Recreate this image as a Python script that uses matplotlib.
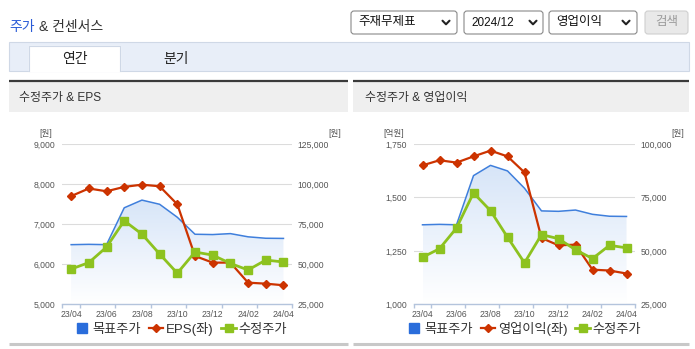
import numpy as np
import matplotlib
matplotlib.use("Agg")
import matplotlib.pyplot as plt
import matplotlib.patches as mpatches
from matplotlib.lines import Line2D
from matplotlib.colors import LinearSegmentedColormap

plt.rcParams['font.family'] = ['Liberation Sans', 'Noto Sans CJK KR']

# ---- data ----
months = ['23/04', '23/05', '23/06', '23/07', '23/08', '23/09', '23/10',
          '23/11', '23/12', '24/01', '24/02', '24/03', '24/04']
target_price = [62200, 62400, 62200, 85200, 90000, 87400, 79300,
                68700, 68500, 69100, 67100, 66200, 66100]
adj_price = [47000, 51000, 60700, 77100, 68800, 56400, 44400,
             57600, 55700, 50500, 46400, 52600, 51400]
eps = [7700, 7890, 7820, 7930, 7985, 7945, 7495,
       6205, 6040, 6040, 5540, 5515, 5475]
op_income = [1650, 1674, 1663, 1692, 1719, 1692, 1617,
             1310, 1276, 1279, 1162, 1158, 1144]

eps_ticks = [5000, 6000, 7000, 8000, 9000]
eps_price_ticks = [25000, 50000, 75000, 100000, 125000]
op_ticks = [1000, 1250, 1500, 1750]
op_price_ticks = [25000, 50000, 75000, 100000]

W, H = 695, 349
C_BLUE = '#3f7fdc'
C_RED = '#cc3300'
C_GREEN = '#8dc21f'
C_TICK = '#555555'

fig = plt.figure(figsize=(W / 100, H / 100), dpi=100)
bg = fig.add_axes([0, 0, 1, 1])
bg.set_xlim(0, W)
bg.set_ylim(H, 0)
bg.axis('off')
bg.set_zorder(-5)


def px_axes(x0, y0, x1, y1):
    return fig.add_axes([x0 / W, 1 - y1 / H, (x1 - x0) / W, (y1 - y0) / H])


def rbox(x0, y0, x1, y1, fc, ec, r=3, lw=0.8):
    p = mpatches.FancyBboxPatch((x0, y0), x1 - x0, y1 - y0,
                                boxstyle=f"round,pad=0,rounding_size={r}",
                                fc=fc, ec=ec, lw=lw)
    bg.add_patch(p)


def chevron(cx, cy=22.5):
    bg.plot([cx - 3.5, cx, cx + 3.5], [cy - 1.8, cy + 1.8, cy - 1.8],
            color='#222222', lw=1.5, solid_capstyle='round')


# ---- header ----
t1 = bg.text(9, 26.5, '주가', color='#2a5bd7', fontsize=10, va='center')
bg.annotate('& 컨센서스', xy=(1, 0.5), xycoords=t1, xytext=(3, 0), textcoords='offset points',
            color='#333333', fontsize=10, va='center')

rbox(351, 11, 457, 34, 'white', '#8a8a8a')
bg.text(358, 22.5, '주재무제표', fontsize=9, va='center', color='#111111')
chevron(446)
rbox(464, 11, 543, 34, 'white', '#8a8a8a')
bg.text(471, 22.5, '2024/12', fontsize=8.5, va='center', color='#111111')
chevron(533)
rbox(549, 11, 637, 34, 'white', '#8a8a8a')
bg.text(556, 22.5, '영업이익', fontsize=9, va='center', color='#111111')
chevron(626)
rbox(645, 11, 688, 34, '#e9e9e9', '#cfcfcf')
bg.text(666.5, 22.5, '검색', fontsize=9, va='center', ha='center', color='#9a9a9a')

# tabs
bg.add_patch(mpatches.Rectangle((9, 41.5), 680, 29.5, fc='#e8eef8', ec='#cfd8e6', lw=0.8))
bg.fill([29, 29, 120, 120], [71, 46, 46, 71], color='white', zorder=3)
bg.plot([29, 29, 120, 120], [71, 46, 46, 71], color='#cfd8e6', lw=0.8, zorder=4)
bg.text(74.5, 58.5, '연간', fontsize=10, ha='center', va='center', color='#222222', zorder=5)
bg.text(176, 58.5, '분기', fontsize=10, ha='center', va='center', color='#222222', zorder=5)

# panels
for x0, x1, title, dx in [(9, 348, '수정주가 & EPS', 10), (353, 689, '수정주가 & 영업이익', 12)]:
    bg.add_patch(mpatches.Rectangle((x0, 82), x1 - x0, 30, fc='#efefef', ec='none'))
    bg.plot([x0, x1], [81, 81], color='#3a3a3a', lw=1.6, solid_capstyle='butt')
    bg.plot([x0, x1], [344, 344], color='#c8c8c8', lw=2.2, solid_capstyle='butt')
    bg.text(x0 + dx, 98, title, fontsize=8.6, va='center', color='#333333')


def draw_chart(box, left_vals, left_ticks, right_ticks, left_name, unit_left, unit_pos, legend_cx):
    x = np.arange(len(months))
    ax = px_axes(*box)
    ax3 = ax.twinx()
    ax2 = ax.twinx()
    ax3.set_zorder(0)
    ax.set_zorder(1)
    ax2.set_zorder(2)
    for a in (ax, ax2, ax3):
        a.patch.set_visible(False)
        for s in ('top', 'left', 'right', 'bottom'):
            a.spines[s].set_visible(False)
        a.set_xlim(-0.5, len(months) - 0.5)

    # background grid + gradient fill under target price
    ax3.set_ylim(right_ticks[0], right_ticks[-1])
    ax3.set_yticks(right_ticks)
    ax3.tick_params(axis='y', right=False, labelright=False, left=False, labelleft=False)
    ax3.set_axisbelow(True)
    ax3.yaxis.grid(True, color='#dcdcdc', lw=0.8)
    poly = ax3.fill_between(x, target_price, right_ticks[0], facecolor='none', edgecolor='none')
    grad = np.linspace(0, 1, 256).reshape(-1, 1)
    cmap = LinearSegmentedColormap.from_list('fade', ['#ffffff', '#d7e5f8'])
    im = ax3.imshow(grad, extent=[x[0], x[-1], right_ticks[0], max(target_price)],
                    origin='lower', aspect='auto', cmap=cmap, zorder=1)
    im.set_clip_path(poly.get_paths()[0], transform=ax3.transData)
    ax3.plot(x, target_price, color=C_BLUE, lw=1.1, zorder=3)
    ax3.set_xlim(-0.5, len(months) - 0.5)
    ax3.set_ylim(right_ticks[0], right_ticks[-1])

    # left-axis series
    ax.plot(x, left_vals, color=C_RED, lw=1.6, marker='D', ms=4, zorder=3)
    ax.set_ylim(left_ticks[0], left_ticks[-1])
    ax.set_yticks(left_ticks)
    ax.set_yticklabels([f'{v:,}' for v in left_ticks])
    ax.tick_params(axis='y', length=0, pad=5, labelsize=6.2, labelcolor=C_TICK)
    ax.spines['bottom'].set_visible(True)
    ax.spines['bottom'].set_color('#b4c4dc')
    ax.spines['bottom'].set_linewidth(1)
    ax.set_xticks(x[::2])
    ax.set_xticklabels(months[::2])
    ax.set_xticks(np.concatenate([[-0.5], np.arange(0.5, len(months), 2)]), minor=True)
    ax.tick_params(axis='x', which='major', length=0, pad=4, labelsize=6.2, labelcolor=C_TICK)
    ax.tick_params(axis='x', which='minor', length=3, width=1, color='#b4c4dc')

    # price on right axis
    ax2.plot(x, adj_price, color=C_GREEN, lw=2, marker='s', ms=5.5, zorder=4)
    ax2.set_ylim(right_ticks[0], right_ticks[-1])
    ax2.set_yticks(right_ticks)
    ax2.set_yticklabels([f'{v:,}' for v in right_ticks])
    ax2.tick_params(axis='y', length=0, pad=4, labelsize=6.2, labelcolor=C_TICK)

    # unit labels
    bg.text(unit_pos[0], 133, unit_left, fontsize=6.2, ha='center', va='center', color=C_TICK)
    bg.text(unit_pos[1], 133, '[원]', fontsize=6.2, ha='center', va='center', color=C_TICK)

    handles = [
        Line2D([], [], marker='s', ls='none', color='#2a6ddb', ms=7.5),
        Line2D([], [], color=C_RED, lw=1.6, marker='D', ms=4),
        Line2D([], [], color=C_GREEN, lw=2, marker='s', ms=5.5),
    ]
    ax2.legend(handles, ['목표주가', left_name, '수정주가'], loc='center',
               bbox_to_anchor=(legend_cx / W, 1 - 329 / H), bbox_transform=fig.transFigure,
               ncol=3, frameon=False, fontsize=9.5, handlelength=1.1, handletextpad=0.2,
               columnspacing=0.6, labelcolor='#333333', borderpad=0)


draw_chart((62.3, 144, 292.3, 304.3), eps, eps_ticks, eps_price_ticks,
           'EPS(좌)', '[원]', (45.7, 335), 181)
draw_chart((414, 144, 635, 304.3), op_income, op_ticks, op_price_ticks,
           '영업이익(좌)', '[억원]', (394, 678), 524)

fig.savefig('out.png', dpi=100)
